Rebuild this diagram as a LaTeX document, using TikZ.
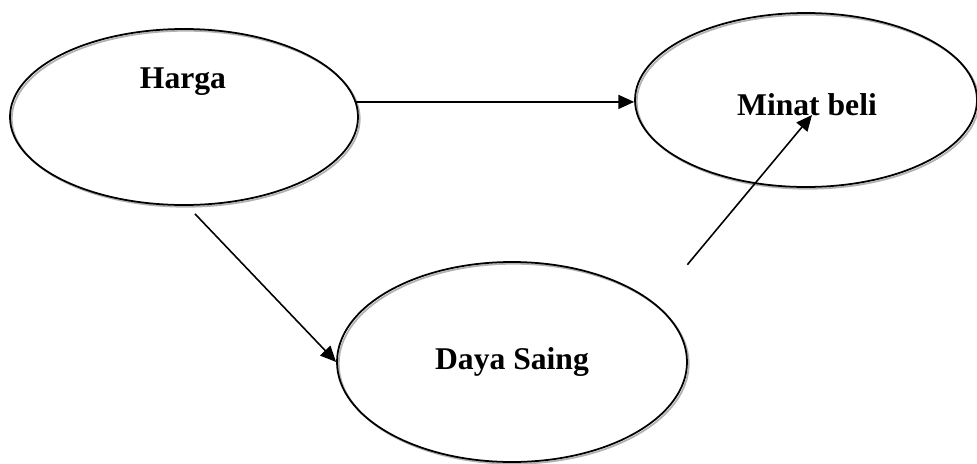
\documentclass[tikz,border=0pt]{standalone}
\usepackage{fontspec}
\setmainfont{Liberation Serif}
\usepackage{tikz}
\usetikzlibrary{shapes.geometric, arrows.meta, positioning, calc, shadows}

\begin{document}
\begin{tikzpicture}[
            variabel/.style={ellipse, draw, line width=1pt, inner sep=0pt,
                drop shadow={shadow xshift=1pt, shadow yshift=-1pt, fill=none, draw=gray!60, line width=1pt, opacity=1}},
            teks/.style={font=\fontsize{18}{20}\selectfont\bfseries},
            panah/.style={-{Triangle[length=9pt, width=8pt]}, line width=0.9pt}
        ]
            \useasboundingbox (0,0) rectangle (19.54,-9.26);

            % Tiga variabel penelitian
            \node[variabel, minimum width=6.96cm, minimum height=3.52cm] (harga) at (3.68,-2.34) {};
            \node[teks] (tharga) at (3.66,-1.64) {Harga};
            \node[variabel, minimum width=6.84cm, minimum height=3.48cm] (minat) at (16.12,-2.0) {};
            \node[teks] (tminat) at (16.14,-2.1) {Minat beli};
            \node[variabel, teks, minimum width=7.0cm, minimum height=4.0cm] (daya) at (10.24,-7.24) {Daya Saing};

            % Ujung bebas panah
            \coordinate (hbawah) at ([shift={(0.22,-0.16)}]harga.south);
            \coordinate (dkanan) at ([shift={(1.02,0.52)}]daya.north east);
            \coordinate (mtengah) at ([shift={(0.12,-0.3)}]minat.center);

            % Hubungan antar variabel
            \draw[panah] (harga.5) -- (harga.5 -| minat.west);
            \draw[panah] (hbawah) -- (daya.west);
            \draw[panah] (dkanan) -- (mtengah);
        \end{tikzpicture}
\end{document}
